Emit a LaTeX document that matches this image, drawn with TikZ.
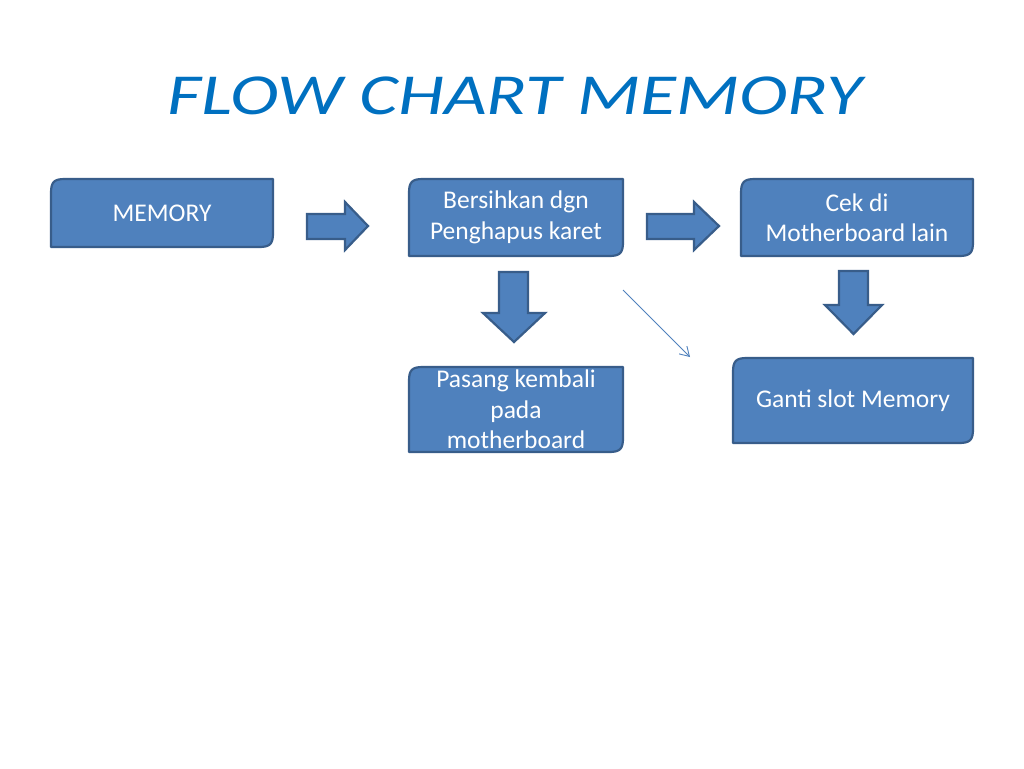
\documentclass[tikz,border=0pt]{standalone}
\usepackage{fontspec}
\setmainfont{Carlito}
\usetikzlibrary{arrows.meta}
\definecolor{boxfill}{HTML}{4F81BD}
\definecolor{boxline}{HTML}{385D8A}
\definecolor{titleblue}{HTML}{0070C0}
\newcommand{\flowbox}[6]{%
  \draw[boxshape] (#2,#3+14) .. controls (#2,#3+3) and (#2+3,#3) .. (#2+14,#3) -- (#4,#3) -- (#4,#5-14) .. controls (#4,#5-3) and (#4-3,#5) .. (#4-14,#5) -- (#2,#5) -- cycle;
  \node[boxtext] (#1) at ({(#2+#4)/2},{(#3+#5)/2}) {#6};
}
\begin{document}
\begin{tikzpicture}[x=1pt,y=-1pt,
  boxshape/.style={fill=boxfill,draw=boxline,line width=2.2pt,line join=round},
  boxtext/.style={text=white,align=center,inner sep=0pt,font=\fontsize{25.5}{30.5}\selectfont},
  blockarrow/.style={fill=boxfill,draw=boxline,line width=2.2pt,line join=miter},
  thinarrow/.style={draw=boxfill,line width=0.9pt,-{Straight Barb[length=9pt,width=11pt]}},
  titletext/.style={text=titleblue,font=\fontsize{58}{60}\selectfont\itshape,xscale=1.27}]
\fill[white] (0,0) rectangle (1024,768);
\useasboundingbox (0,0) rectangle (1024,768);
\node[titletext] (title) at (515,96) {FLOW CHART MEMORY};
\flowbox{memory}{51}{179}{273}{247}{MEMORY}
\flowbox{bersih}{409}{179}{623}{256}{Bersihkan dgn\\Penghapus karet}
\flowbox{cek}{741}{179}{973}{256}{Cek di\\Motherboard lain}
\flowbox{pasang}{409}{367}{623}{452}{Pasang kembali\\pada\\motherboard}
\flowbox{ganti}{733}{358}{973}{443}{Ganti slot Memory}
\draw[blockarrow] (307,214) -- (345,214) -- (345,202) -- (368,226) -- (345,250) -- (345,239) -- (307,239) -- cycle;
\draw[blockarrow] (647,214) -- (694,214) -- (694,202) -- (719,226) -- (694,250) -- (694,239) -- (647,239) -- cycle;
\draw[blockarrow] (499,272) -- (528,272) -- (528,313) -- (545,313) -- (514,342) -- (483,313) -- (499,313) -- cycle;
\draw[blockarrow] (839,271) -- (868,271) -- (868,305) -- (882,305) -- (853.5,334) -- (825,305) -- (839,305) -- cycle;
\coordinate (t1) at (623,290);
\coordinate (t2) at (690,357);
\draw[thinarrow] (t1) -- (t2);
\end{tikzpicture}
\end{document}
